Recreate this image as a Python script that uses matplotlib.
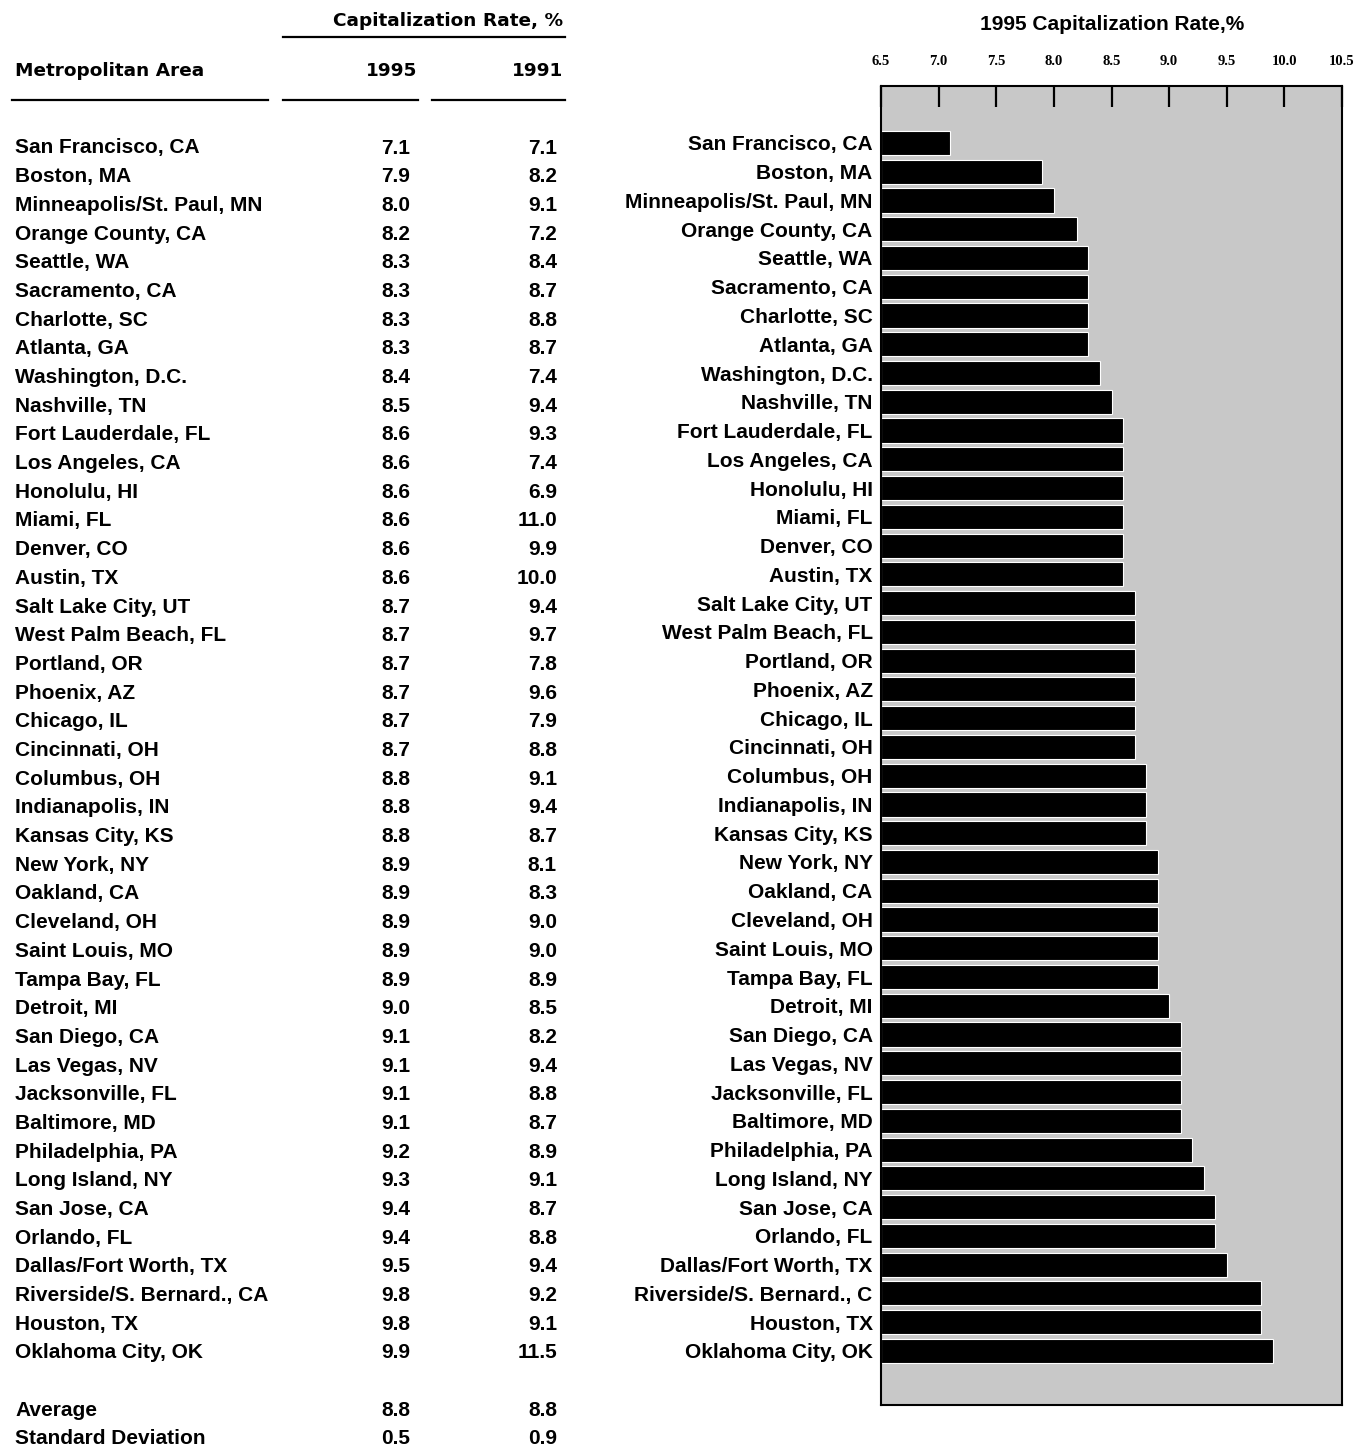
import matplotlib.pyplot as plt

# metropolitan areas, capitalization rates (%) 1995 and 1991
areas = ["San Francisco, CA", "Boston, MA", "Minneapolis/St. Paul, MN", "Orange County, CA",
         "Seattle, WA", "Sacramento, CA", "Charlotte, SC", "Atlanta, GA", "Washington, D.C.",
         "Nashville, TN", "Fort Lauderdale, FL", "Los Angeles, CA", "Honolulu, HI", "Miami, FL",
         "Denver, CO", "Austin, TX", "Salt Lake City, UT", "West Palm Beach, FL", "Portland, OR",
         "Phoenix, AZ", "Chicago, IL", "Cincinnati, OH", "Columbus, OH", "Indianapolis, IN",
         "Kansas City, KS", "New York, NY", "Oakland, CA", "Cleveland, OH", "Saint Louis, MO",
         "Tampa Bay, FL", "Detroit, MI", "San Diego, CA", "Las Vegas, NV", "Jacksonville, FL",
         "Baltimore, MD", "Philadelphia, PA", "Long Island, NY", "San Jose, CA", "Orlando, FL",
         "Dallas/Fort Worth, TX", "Riverside/S. Bernard., CA", "Houston, TX", "Oklahoma City, OK"]
rate1995 = [7.1, 7.9, 8.0, 8.2, 8.3, 8.3, 8.3, 8.3, 8.4, 8.5, 8.6, 8.6, 8.6, 8.6, 8.6, 8.6,
            8.7, 8.7, 8.7, 8.7, 8.7, 8.7, 8.8, 8.8, 8.8, 8.9, 8.9, 8.9, 8.9, 8.9, 9.0, 9.1,
            9.1, 9.1, 9.1, 9.2, 9.3, 9.4, 9.4, 9.5, 9.8, 9.8, 9.9]
rate1991 = [7.1, 8.2, 9.1, 7.2, 8.4, 8.7, 8.8, 8.7, 7.4, 9.4, 9.3, 7.4, 6.9, 11.0, 9.9, 10.0,
            9.4, 9.7, 7.8, 9.6, 7.9, 8.8, 9.1, 9.4, 8.7, 8.1, 8.3, 9.0, 9.0, 8.9, 8.5, 8.2,
            9.4, 8.8, 8.7, 8.9, 9.1, 8.7, 8.8, 9.4, 9.2, 9.1, 11.5]
summary_names = ["Average", "Standard Deviation"]
summary1995 = [8.8, 0.5]
summary1991 = [8.8, 0.9]
# the chart label is cut off in the original
bar_labels = list(areas)
bar_labels[40] = "Riverside/S. Bernard., C"
xticks = [6.5, 7.0, 7.5, 8.0, 8.5, 9.0, 9.5, 10.0, 10.5]

plt.rcParams['font.family'] = ['Liberation Sans', 'DejaVu Sans']
plt.rcParams['font.weight'] = 'bold'
W, H = 1370, 1451
fig = plt.figure(figsize=(W / 100, H / 100), dpi=100)

# ---- table on the left ----
row0, step = 148, 28.69
def ry(px):
    return (px - row0) / step

ax_t = fig.add_axes([0, 0, 600 / W, 1])
ax_t.set_xlim(0, 600)
ax_t.set_ylim(ry(H), ry(0))
ax_t.axis('off')

fs = 15
for i, name in enumerate(areas):
    ax_t.text(15, i, name, ha='left', va='center', fontsize=fs)
    ax_t.text(410, i, "%.1f" % rate1995[i], ha='right', va='center', fontsize=fs)
    ax_t.text(557, i, "%.1f" % rate1991[i], ha='right', va='center', fontsize=fs)
for j, name in enumerate(summary_names):
    y = ry(1411 + 28 * j)
    ax_t.text(15, y, name, ha='left', va='center', fontsize=fs)
    ax_t.text(410, y, "%.1f" % summary1995[j], ha='right', va='center', fontsize=fs)
    ax_t.text(557, y, "%.1f" % summary1991[j], ha='right', va='center', fontsize=fs)

hdr = dict(va='center', fontsize=13.3, fontweight='bold', family='DejaVu Sans')
ax_t.text(563, ry(21), "Capitalization Rate, %", ha='right', **hdr)
ax_t.text(15, ry(71), "Metropolitan Area", ha='left', **hdr)
ax_t.text(417, ry(71), "1995", ha='right', **hdr)
ax_t.text(563, ry(71), "1991", ha='right', **hdr)
ax_t.plot([283, 565], [ry(37), ry(37)], color='black', lw=1.6)
for x0, x1 in [(12, 268), (283, 418), (432, 565)]:
    ax_t.plot([x0, x1], [ry(100), ry(100)], color='black', lw=1.6)

# ---- bar chart on the right ----
ax = fig.add_axes([881 / W, 1 - 1405 / H, 461 / W, (1405 - 86) / H])
ypos = list(range(len(areas)))
ax.set_facecolor('#c8c8c8')
ax.barh(ypos, [v - 6.5 for v in rate1995], left=6.5, height=0.84,
        color='black', edgecolor='white', linewidth=0.8)
ax.set_xlim(6.5, 10.5)
ax.set_ylim(43.88, -1.98)
ax.set_yticks(ypos)
ax.set_yticklabels(bar_labels, fontsize=fs)
ax.tick_params(axis='y', length=0, pad=6)
ax.xaxis.tick_top()
ax.set_xticks(xticks)
ax.set_xticklabels(["%.1f" % t for t in xticks], fontsize=10.5, fontweight='bold',
                   family='Liberation Serif')
ax.tick_params(axis='x', direction='in', length=15, width=1.6, pad=13)
for s in ax.spines.values():
    s.set_linewidth(1.5)
fig.text(1112 / W, 1 - 24 / H, "1995 Capitalization Rate,%", ha='center', va='center', fontsize=15)

fig.savefig("out.png", dpi=100)
